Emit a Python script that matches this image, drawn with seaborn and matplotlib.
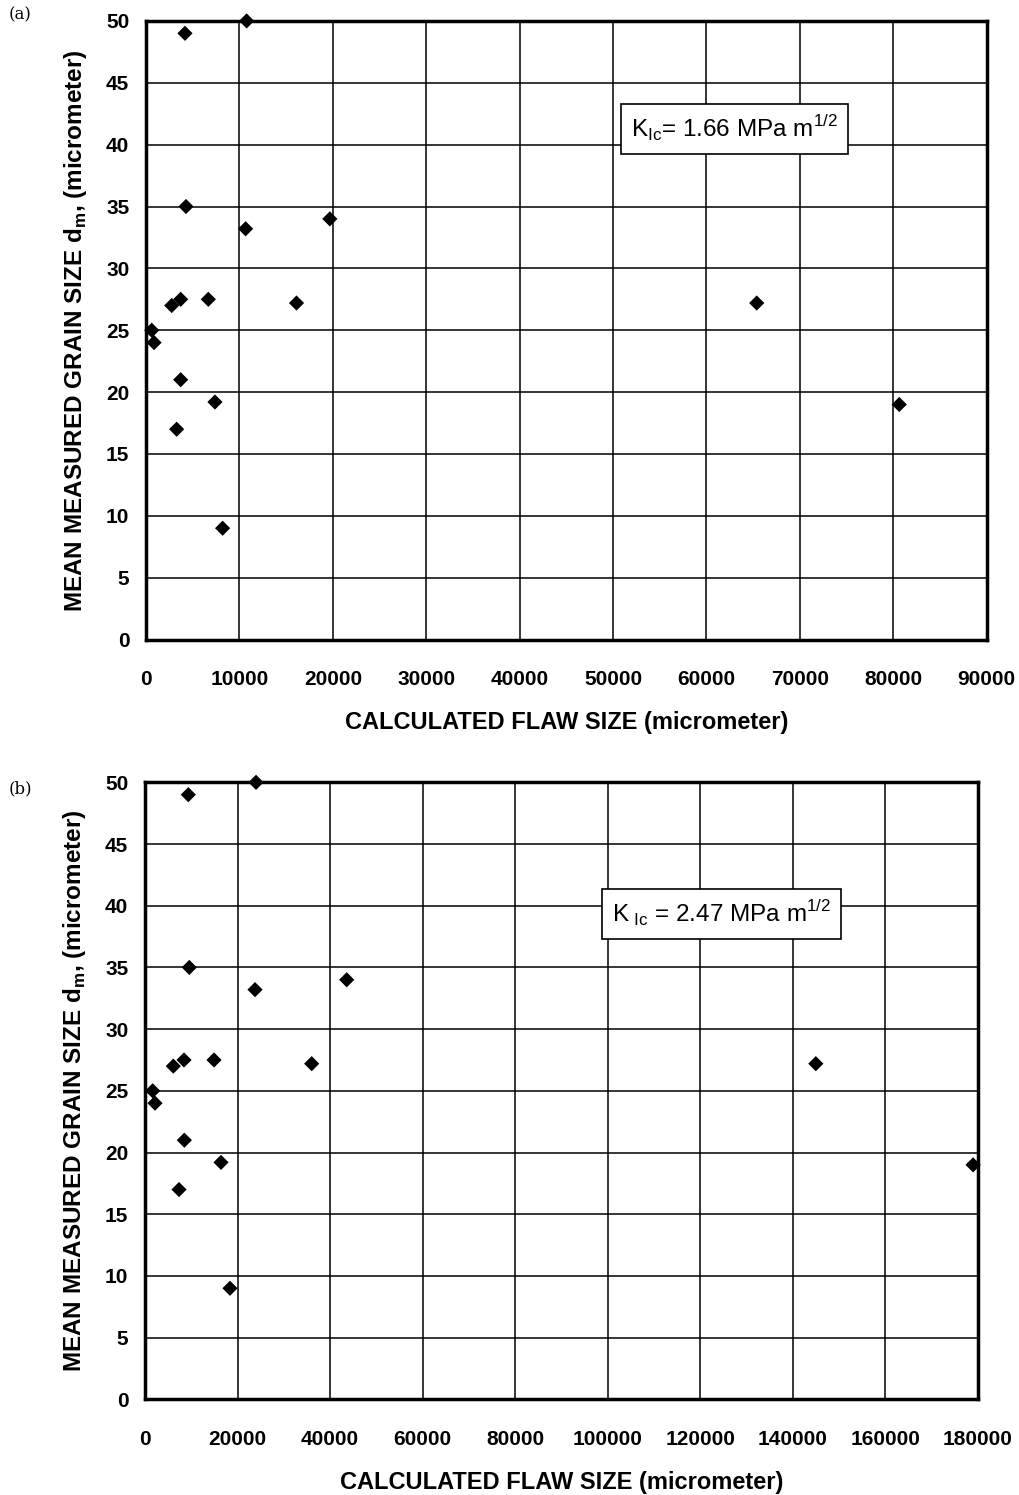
import matplotlib
matplotlib.use("Agg")
import matplotlib.pyplot as plt
import seaborn as sns
import pandas as pd

# grain size (same order in both panels)
grain_size = [25, 24, 49, 50, 35, 33.2, 34, 27, 27.5, 27.5, 27.2, 21, 19.2, 17, 9, 27.2, 19]

# calculated flaw size, K_Ic = 1.66 MPa m^1/2
flaw_a = [610, 860, 4170, 10770, 4280, 10660, 19680, 2750, 3710, 6670, 16110,
          3710, 7380, 3280, 8200, 65380, 80640]
# calculated flaw size, K_Ic = 2.47 MPa m^1/2
flaw_b = [1660, 2160, 9360, 24000, 9580, 23780, 43600, 6120, 8430, 14920, 36030,
          8500, 16430, 7350, 18370, 145000, 179000]

panels = [
    {"tag": "(a)", "flaw": flaw_a, "xmax": 90000, "xstep": 10000,
     "kic": r"K$_{\mathrm{Ic}}$= 1.66 MPa m$^{1/2}$", "box": (0.700, 0.825),
     "rect": [0.1433, 0.5722, 0.8250, 0.4138], "label_y": 0.990},
    {"tag": "(b)", "flaw": flaw_b, "xmax": 180000, "xstep": 20000,
     "kic": r"K$_{\ \mathrm{Ic}}$ = 2.47 MPa m$^{1/2}$", "box": (0.692, 0.787),
     "rect": [0.1423, 0.0640, 0.8172, 0.4127], "label_y": 0.472},
]

sns.set_style("whitegrid")
plt.rcParams["font.family"] = ["Liberation Sans", "DejaVu Sans"]
plt.rcParams["mathtext.fontset"] = "custom"
plt.rcParams["mathtext.rm"] = "Liberation Sans"
plt.rcParams["mathtext.bf"] = "Liberation Sans:bold"
for key in ["text.color", "axes.labelcolor", "xtick.color", "ytick.color"]:
    plt.rcParams[key] = "black"

fig = plt.figure(figsize=(10.19, 14.95), dpi=100)

for p in panels:
    ax = fig.add_axes(p["rect"])
    df = pd.DataFrame({"flaw": p["flaw"], "grain": grain_size})
    sns.scatterplot(data=df, x="flaw", y="grain", ax=ax, marker="D", s=60,
                    color="black", edgecolor="none", linewidth=0, zorder=5,
                    clip_on=False)

    ax.set_xlim(0, p["xmax"])
    ax.set_ylim(0, 50)
    ax.set_xticks(range(0, p["xmax"] + 1, p["xstep"]))
    ax.set_yticks(range(0, 51, 5))
    ax.grid(True, color="black", linewidth=1.1)
    ax.set_axisbelow(True)
    for sp in ax.spines.values():
        sp.set_visible(True)
        sp.set_color("black")
        sp.set_linewidth(2.5)

    ax.tick_params(axis="both", which="major", direction="out", length=6,
                   width=1, color="black", labelcolor="black", labelsize=15)
    ax.tick_params(axis="x", pad=16)
    ax.tick_params(axis="y", pad=6)
    for lab in ax.get_xticklabels() + ax.get_yticklabels():
        lab.set_fontweight("bold")

    ax.set_xlabel("CALCULATED FLAW SIZE (micrometer)", fontsize=17,
                  fontweight="bold", labelpad=16)
    ax.set_ylabel(r"MEAN MEASURED GRAIN SIZE d$_\mathbf{m}$, (micrometer)",
                  fontsize=17.5, fontweight="bold", labelpad=12)

    ax.text(p["box"][0], p["box"][1], p["kic"], transform=ax.transAxes,
            ha="center", va="center", fontsize=17.5, zorder=6,
            bbox=dict(boxstyle="square,pad=0.4", facecolor="white",
                      edgecolor="black", linewidth=1.2))

    fig.text(0.008, p["label_y"], p["tag"], family="DejaVu Serif",
             fontsize=12, ha="left", va="center")

fig.savefig("out.png", dpi=100, facecolor="white")
